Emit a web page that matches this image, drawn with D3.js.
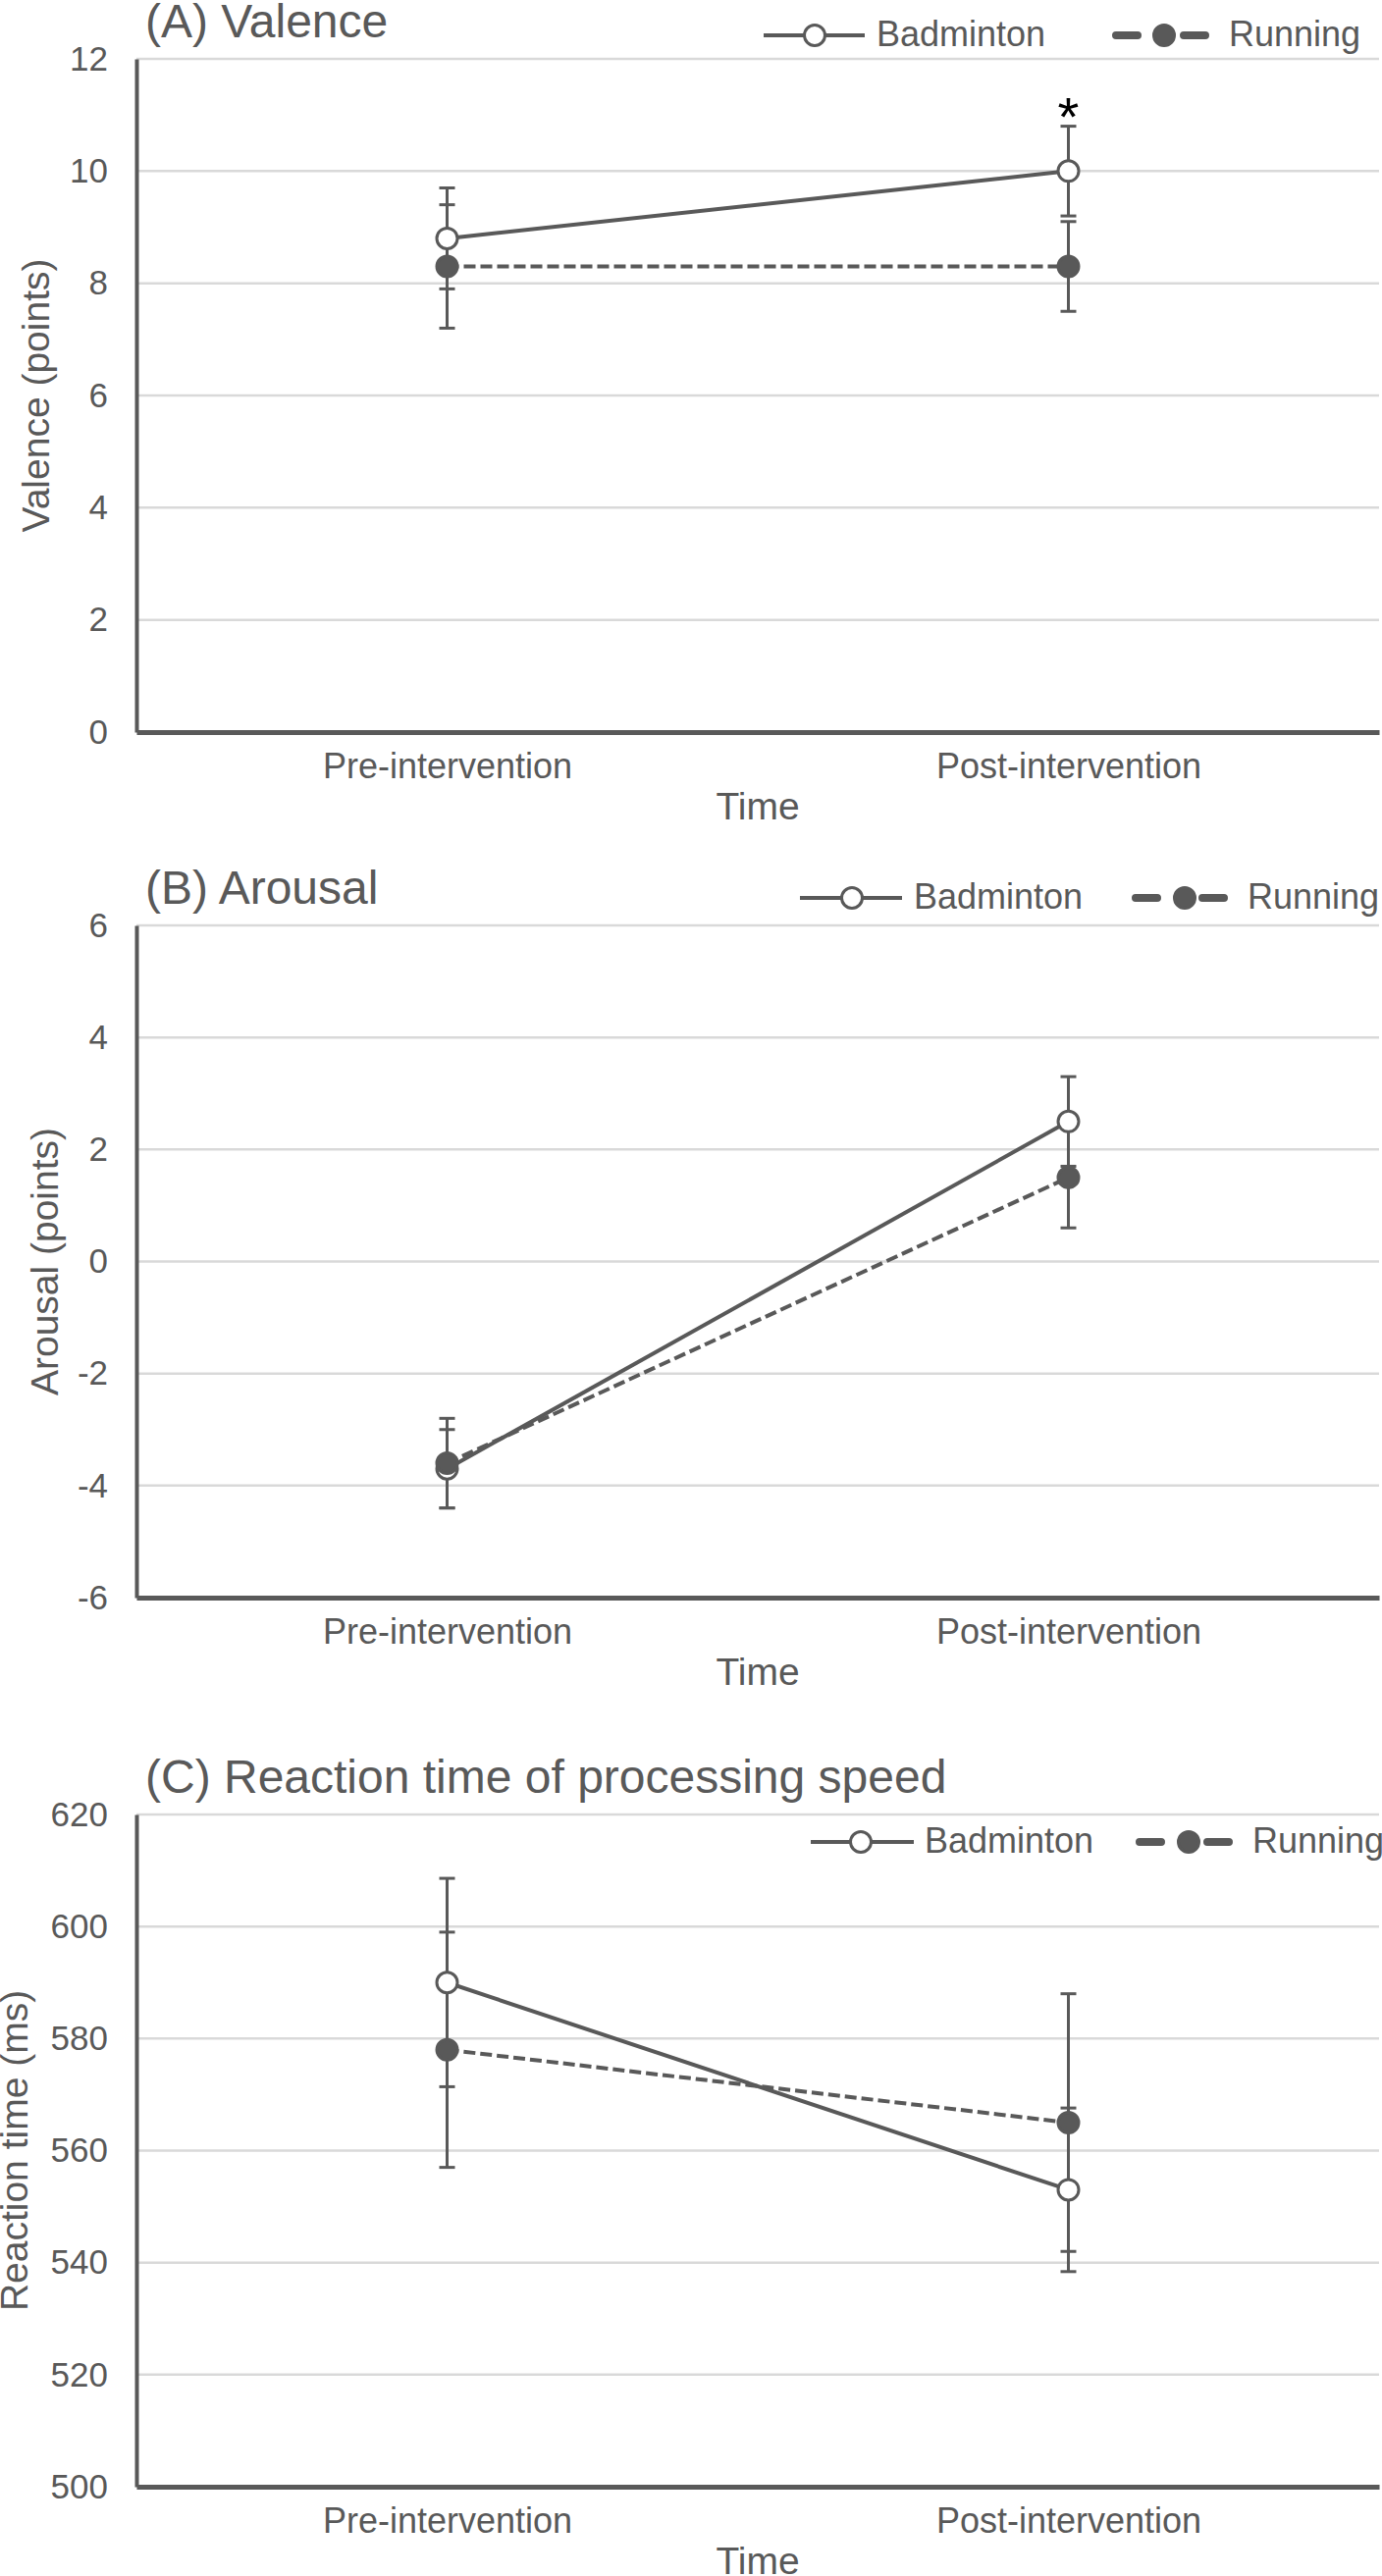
<!DOCTYPE html>
<html>
<head>
<meta charset="utf-8">
<script src="https://cdn.jsdelivr.net/npm/d3@7"></script>
<style>
	body { margin: 0; background: #fff; }
	text { font-family: "Liberation Sans", Arial, Helvetica, sans-serif; fill: #595959; }
</style>
</head>
<body>
<div id="chart"></div>
<script>
//Dados
var timePoints = ["Pre-intervention", "Post-intervention"];
var seriesNames = ["Badminton", "Running"];

var valenceTicks = [0, 2, 4, 6, 8, 10, 12];
var valenceBadminton = [8.8, 10.0];
var valenceBadmintonSD = [0.9, 0.8];
var valenceRunning = [8.3, 8.3];
var valenceRunningSD = [1.1, 0.8];
var valenceStar = [false, true];

var arousalTicks = [-6, -4, -2, 0, 2, 4, 6];
var arousalBadminton = [-3.7, 2.5];
var arousalBadmintonSD = [0.7, 0.8];
var arousalRunning = [-3.6, 1.5];
var arousalRunningSD = [0.8, 0.9];
var arousalStar = [false, false];

var rtTicks = [500, 520, 540, 560, 580, 600, 620];
var rtBadminton = [590, 553];
var rtBadmintonSD = [18.6, 14.6];
var rtRunning = [578, 565];
var rtRunningSD = [21, 23];
var rtStar = [false, false];

(function () {
	'use strict';
	var gray = "#595959", grid = "#d9d9d9";
	var left = 139, right = 1405;

	var panels = [
		{ title: "(A) Valence", yLabel: "Valence (points)", ticks: valenceTicks,
		  b: valenceBadminton, bsd: valenceBadmintonSD, r: valenceRunning, rsd: valenceRunningSD, star: valenceStar,
		  top: 60, bottom: 746, labelX: 50,
		  leg: { y: 36, bl: [778, 881], bc: 830, bt: 893, rl: [1133, 1232], rc: 1186, rt: 1252 } },
		{ title: "(B) Arousal", yLabel: "Arousal (points)", ticks: arousalTicks,
		  b: arousalBadminton, bsd: arousalBadmintonSD, r: arousalRunning, rsd: arousalRunningSD, star: arousalStar,
		  top: 943, bottom: 1628, labelX: 59,
		  leg: { y: 915, bl: [815, 919], bc: 868, bt: 931, rl: [1153, 1251], rc: 1207, rt: 1271 } },
		{ title: "(C) Reaction time of processing speed", yLabel: "Reaction time (ms)", ticks: rtTicks,
		  b: rtBadminton, bsd: rtBadmintonSD, r: rtRunning, rsd: rtRunningSD, star: rtStar,
		  top: 1849, bottom: 2534, labelX: 28,
		  leg: { y: 1877, bl: [826, 931], bc: 877, bt: 942, rl: [1157, 1256], rc: 1211, rt: 1276 } }
	];

	var svg = d3.select("#chart").append("svg")
		.attr("width", 1408)
		.attr("height", 2625);

	//Escala x comum
	var x = d3.scalePoint().domain(timePoints).range([left, right]).padding(0.5);

	panels.forEach(function (p) {
		var y = d3.scaleLinear().domain(d3.extent(p.ticks)).range([p.bottom, p.top]);
		var g = svg.append("g");

		//Grade
		g.selectAll(".grid").data(p.ticks.slice(1)).enter()
			.append("line")
			.attr("x1", left).attr("x2", right)
			.attr("y1", function (d) { return y(d); })
			.attr("y2", function (d) { return y(d); })
			.attr("stroke", grid).attr("stroke-width", 2.5);

		//Eixo y
		var ya = g.append("g")
			.attr("transform", "translate(" + left + ",0)")
			.call(d3.axisLeft(y).tickValues(p.ticks).tickSize(0).tickPadding(29)
				.tickFormat(function (d) { return String(d); }));
		ya.attr("font-size", 35).attr("font-family", null);
		ya.select(".domain").attr("stroke", gray).attr("stroke-width", 4);

		//Eixo x
		var xa = g.append("g")
			.attr("transform", "translate(0," + p.bottom + ")")
			.call(d3.axisBottom(x).tickSize(0));
		xa.attr("font-size", 36).attr("font-family", null);
		xa.select(".domain").attr("stroke", gray).attr("stroke-width", 5);
		xa.selectAll(".tick text").attr("y", 47).attr("dy", 0);

		//Titulos
		g.append("text").attr("x", 148).attr("y", p.top - 22)
			.attr("font-size", 48).text(p.title);
		g.append("text").attr("x", (left + right) / 2).attr("y", p.bottom + 89)
			.attr("text-anchor", "middle").attr("font-size", 39).text("Time");
		g.append("text")
			.attr("transform", "translate(" + p.labelX + "," + (p.top + p.bottom) / 2 + ") rotate(-90)")
			.attr("text-anchor", "middle").attr("font-size", 39).text(p.yLabel);

		var series = [
			{ name: seriesNames[0], m: p.b, sd: p.bsd, dash: null, fill: "#fff" },
			{ name: seriesNames[1], m: p.r, sd: p.rsd, dash: "12,5", fill: gray }
		];

		//Barras de erro
		series.forEach(function (s) {
			var eb = g.append("g").selectAll("g").data(s.m).enter().append("g");
			eb.append("line")
				.attr("x1", function (d, i) { return x(timePoints[i]); })
				.attr("x2", function (d, i) { return x(timePoints[i]); })
				.attr("y1", function (d, i) { return y(d - s.sd[i]); })
				.attr("y2", function (d, i) { return y(d + s.sd[i]); })
				.attr("stroke", gray).attr("stroke-width", 3);
			[-1, 1].forEach(function (sign) {
				eb.append("line")
					.attr("x1", function (d, i) { return x(timePoints[i]) - 8; })
					.attr("x2", function (d, i) { return x(timePoints[i]) + 8; })
					.attr("y1", function (d, i) { return y(d + sign * s.sd[i]); })
					.attr("y2", function (d, i) { return y(d + sign * s.sd[i]); })
					.attr("stroke", gray).attr("stroke-width", 3);
			});
		});

		//Linhas
		var line = d3.line()
			.x(function (d, i) { return x(timePoints[i]); })
			.y(function (d) { return y(d); });
		series.forEach(function (s) {
			g.append("path")
				.attr("d", line(s.m))
				.attr("fill", "none")
				.attr("stroke", gray)
				.attr("stroke-width", 4)
				.attr("stroke-dasharray", s.dash);
		});

		//Marcadores
		series.forEach(function (s) {
			g.append("g").selectAll("circle").data(s.m).enter()
				.append("circle")
				.attr("cx", function (d, i) { return x(timePoints[i]); })
				.attr("cy", function (d) { return y(d); })
				.attr("r", 10.5)
				.attr("fill", s.fill)
				.attr("stroke", gray)
				.attr("stroke-width", 3);
		});

		//Asterisco
		g.selectAll(".star").data(p.b.filter(function (d, i) { return p.star[i]; })).enter()
			.append("text")
			.attr("x", function () { return x(timePoints[p.star.indexOf(true)]); })
			.attr("y", function (d) { var i = p.star.indexOf(true); return y(d + p.bsd[i]) + 9; })
			.attr("text-anchor", "middle")
			.attr("font-size", 56)
			.style("fill", "#000")
			.text("*");

		//Legenda
		var L = p.leg;
		g.append("line").attr("x1", L.bl[0]).attr("x2", L.bl[1]).attr("y1", L.y).attr("y2", L.y)
			.attr("stroke", gray).attr("stroke-width", 4);
		g.append("circle").attr("cx", L.bc).attr("cy", L.y).attr("r", 10.5)
			.attr("fill", "#fff").attr("stroke", gray).attr("stroke-width", 3);
		g.append("text").attr("x", L.bt).attr("y", L.y + 11).attr("font-size", 36).text(seriesNames[0]);
		var len = L.rl[1] - L.rl[0] - 8;
		g.append("line").attr("x1", L.rl[0] + 4).attr("x2", L.rl[1] - 4).attr("y1", L.y).attr("y2", L.y)
			.attr("stroke", gray).attr("stroke-width", 8).attr("stroke-linecap", "round")
			.attr("stroke-dasharray", "22," + (len - 44));
		g.append("circle").attr("cx", L.rc).attr("cy", L.y).attr("r", 10.5)
			.attr("fill", gray).attr("stroke", gray).attr("stroke-width", 3);
		g.append("text").attr("x", L.rt).attr("y", L.y + 11).attr("font-size", 36).text(seriesNames[1]);
	});
}());
</script>
</body>
</html>
